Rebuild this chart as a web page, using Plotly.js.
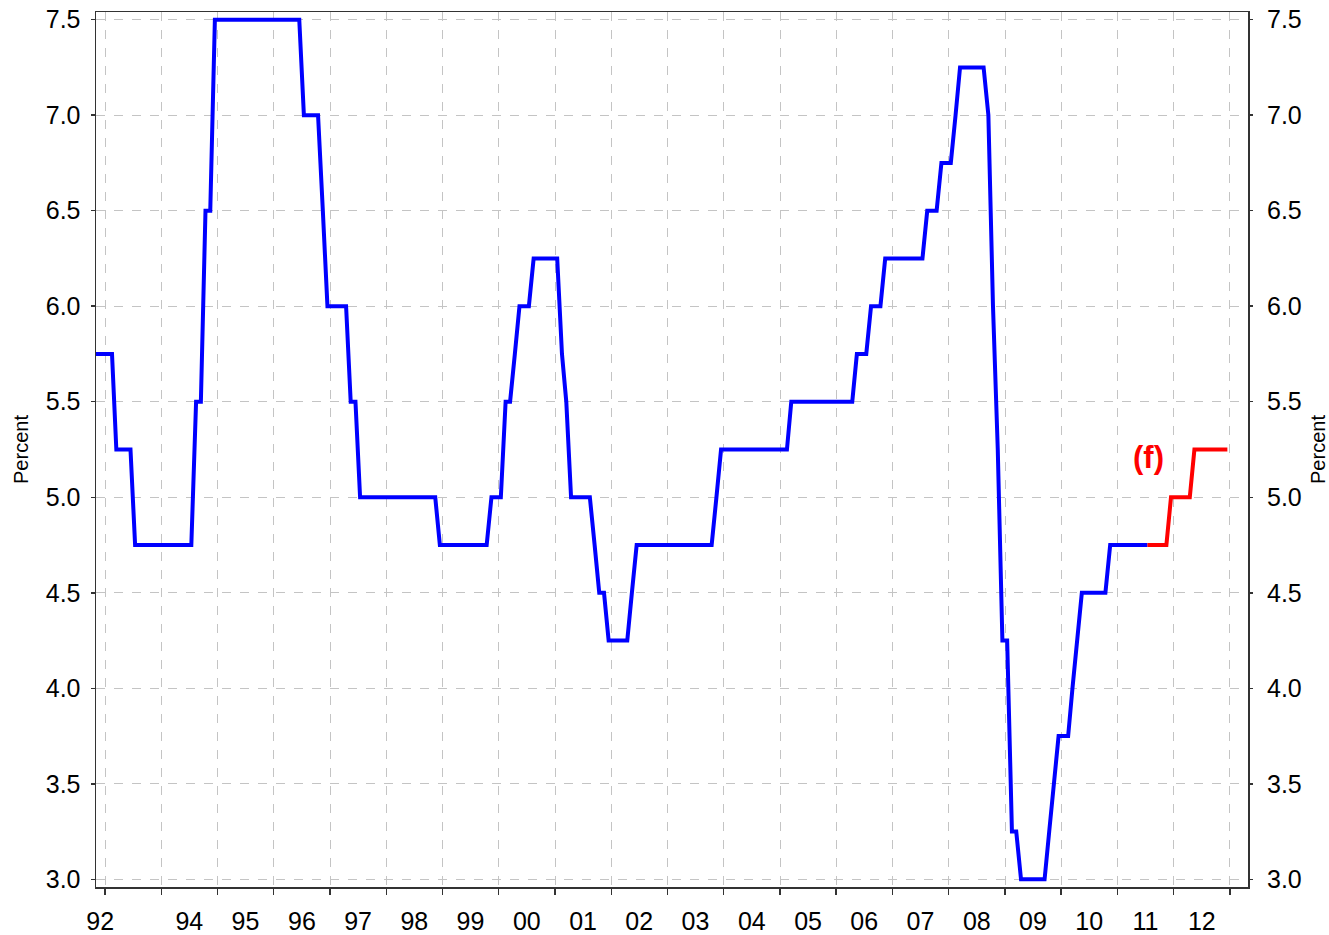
<!DOCTYPE html>
<html>
<head>
<meta charset="utf-8">
<script src="https://cdn.plot.ly/plotly-3.0.1.min.js"></script>
<style>
  html, body { margin: 0; padding: 0; background: #ffffff; }
  #chart { width: 1329px; height: 935px; }
</style>
</head>
<body>
<div id="chart"></div>
<script>
// Cash rate, month-end values (percent), actual: Oct 1992 .. Jul 2011
const actualStart = [1992, 10];
const actualRate = [
  /*1992 Oct-Dec*/ 5.75, 5.75, 5.75,
  /*1993*/ 5.75, 5.75, 5.25, 5.25, 5.25, 5.25, 4.75, 4.75, 4.75, 4.75, 4.75, 4.75,
  /*1994*/ 4.75, 4.75, 4.75, 4.75, 4.75, 4.75, 4.75, 5.5, 5.5, 6.5, 6.5, 7.5,
  /*1995*/ 7.5, 7.5, 7.5, 7.5, 7.5, 7.5, 7.5, 7.5, 7.5, 7.5, 7.5, 7.5,
  /*1996*/ 7.5, 7.5, 7.5, 7.5, 7.5, 7.5, 7.0, 7.0, 7.0, 7.0, 6.5, 6.0,
  /*1997*/ 6.0, 6.0, 6.0, 6.0, 5.5, 5.5, 5.0, 5.0, 5.0, 5.0, 5.0, 5.0,
  /*1998*/ 5.0, 5.0, 5.0, 5.0, 5.0, 5.0, 5.0, 5.0, 5.0, 5.0, 5.0, 4.75,
  /*1999*/ 4.75, 4.75, 4.75, 4.75, 4.75, 4.75, 4.75, 4.75, 4.75, 4.75, 5.0, 5.0,
  /*2000*/ 5.0, 5.5, 5.5, 5.75, 6.0, 6.0, 6.0, 6.25, 6.25, 6.25, 6.25, 6.25,
  /*2001*/ 6.25, 5.75, 5.5, 5.0, 5.0, 5.0, 5.0, 5.0, 4.75, 4.5, 4.5, 4.25,
  /*2002*/ 4.25, 4.25, 4.25, 4.25, 4.5, 4.75, 4.75, 4.75, 4.75, 4.75, 4.75, 4.75,
  /*2003*/ 4.75, 4.75, 4.75, 4.75, 4.75, 4.75, 4.75, 4.75, 4.75, 4.75, 5.0, 5.25,
  /*2004*/ 5.25, 5.25, 5.25, 5.25, 5.25, 5.25, 5.25, 5.25, 5.25, 5.25, 5.25, 5.25,
  /*2005*/ 5.25, 5.25, 5.5, 5.5, 5.5, 5.5, 5.5, 5.5, 5.5, 5.5, 5.5, 5.5,
  /*2006*/ 5.5, 5.5, 5.5, 5.5, 5.75, 5.75, 5.75, 6.0, 6.0, 6.0, 6.25, 6.25,
  /*2007*/ 6.25, 6.25, 6.25, 6.25, 6.25, 6.25, 6.25, 6.5, 6.5, 6.5, 6.75, 6.75,
  /*2008*/ 6.75, 7.0, 7.25, 7.25, 7.25, 7.25, 7.25, 7.25, 7.0, 6.0, 5.25, 4.25,
  /*2009*/ 4.25, 3.25, 3.25, 3.0, 3.0, 3.0, 3.0, 3.0, 3.0, 3.25, 3.5, 3.75,
  /*2010*/ 3.75, 3.75, 4.0, 4.25, 4.5, 4.5, 4.5, 4.5, 4.5, 4.5, 4.75, 4.75,
  /*2011 Jan-Jul*/ 4.75, 4.75, 4.75, 4.75, 4.75, 4.75, 4.75
];

// Forecast (f): Jul 2011 .. Dec 2012
const forecastStart = [2011, 7];
const forecastRate = [
  /*2011 Jul-Dec*/ 4.75, 4.75, 4.75, 4.75, 4.75, 5.0,
  /*2012*/ 5.0, 5.0, 5.0, 5.0, 5.25, 5.25, 5.25, 5.25, 5.25, 5.25, 5.25, 5.25
];

// X-axis year labels (placed mid-year) and year boundaries
const yearLabels = ['92', '94', '95', '96', '97', '98', '99', '00', '01', '02', '03', '04', '05', '06', '07', '08', '09', '10', '11', '12'];
const yearLabelPos = ['1992-11-30', '1994-07-02', '1995-07-02', '1996-07-02', '1997-07-02', '1998-07-02', '1999-07-02', '2000-07-02', '2001-07-02', '2002-07-02', '2003-07-02', '2004-07-02', '2005-07-02', '2006-07-02', '2007-07-02', '2008-07-02', '2009-07-02', '2010-07-02', '2011-07-02', '2012-07-02'];

function monthDates(start, n) {
  const out = [];
  let y = start[0], m = start[1];
  for (let i = 0; i < n; i++) {
    out.push(y + '-' + String(m).padStart(2, '0') + '-15');
    m++; if (m > 12) { m = 1; y++; }
  }
  return out;
}

const actualDates = monthDates(actualStart, actualRate.length);
const forecastDates = monthDates(forecastStart, forecastRate.length);

const xRange = ['1992-11-03', '2013-04-28'];
const yRange = [2.96, 7.54];
const FONT = 'Liberation Sans, Arial, Helvetica, sans-serif';
const gridCol = '#c4c4c4';
const lineCol = '#333333';

const traces = [
  {
    x: actualDates, y: actualRate, type: 'scatter', mode: 'lines',
    line: { color: '#0000ff', width: 4 }, xaxis: 'x', yaxis: 'y',
    hoverinfo: 'x+y', showlegend: false
  },
  {
    x: forecastDates, y: forecastRate, type: 'scatter', mode: 'lines',
    line: { color: '#ff0000', width: 4 }, xaxis: 'x2', yaxis: 'y2',
    hoverinfo: 'x+y', showlegend: false
  }
];

const layout = {
  width: 1329, height: 935,
  paper_bgcolor: '#ffffff', plot_bgcolor: '#ffffff',
  margin: { l: 96, r: 81, t: 12, b: 48 },
  font: { family: FONT, color: '#000000' },
  showlegend: false,
  xaxis: {
    type: 'date', range: xRange,
    tickmode: 'linear', tick0: '1993-01-01', dtick: 'M12',
    ticks: 'outside', ticklen: 6, tickwidth: 1.5, tickcolor: lineCol,
    showticklabels: false,
    showgrid: true, gridcolor: gridCol, gridwidth: 1, griddash: 'dash',
    showline: true, linecolor: lineCol, linewidth: 1.5, mirror: true,
    zeroline: false, fixedrange: true
  },
  xaxis2: {
    type: 'date', range: xRange, overlaying: 'x', anchor: 'y', side: 'bottom',
    tickmode: 'array', tickvals: yearLabelPos, ticktext: yearLabels,
    ticks: '', ticklabelstandoff: 17,
    tickfont: { family: FONT, size: 25, color: '#000000' },
    showgrid: false, showline: false, zeroline: false, fixedrange: true
  },
  yaxis: {
    range: yRange, tickmode: 'linear', tick0: 3.0, dtick: 0.5, tickformat: '.1f',
    ticks: 'outside', ticklen: 4, tickwidth: 1.5, tickcolor: lineCol,
    ticklabelstandoff: 5,
    tickfont: { family: FONT, size: 25, color: '#000000' },
    showgrid: true, gridcolor: gridCol, gridwidth: 1, griddash: 'dash',
    showline: true, linecolor: lineCol, linewidth: 1.5, mirror: true,
    zeroline: false, fixedrange: true,
    title: { text: 'Percent', font: { family: FONT, size: 20, color: '#000000' }, standoff: 11 }
  },
  yaxis2: {
    range: yRange, overlaying: 'y', side: 'right', anchor: 'x',
    tickmode: 'linear', tick0: 3.0, dtick: 0.5, tickformat: '.1f',
    ticks: 'outside', ticklen: 4, tickwidth: 1.5, tickcolor: lineCol,
    ticklabelstandoff: 9,
    tickfont: { family: FONT, size: 25, color: '#000000' },
    showgrid: false, showline: false, zeroline: false, fixedrange: true,
    title: { text: 'Percent', font: { family: FONT, size: 20, color: '#000000' }, standoff: 12 }
  },
  annotations: [
    {
      x: '2011-07-24', y: 5.21, xref: 'x', yref: 'y',
      text: '<b>(f)</b>', showarrow: false,
      font: { family: FONT, size: 31, color: '#ff0000' },
      xanchor: 'center', yanchor: 'middle'
    }
  ]
};

Plotly.newPlot('chart', traces, layout, { displayModeBar: false, staticPlot: true });
</script>
</body>
</html>
